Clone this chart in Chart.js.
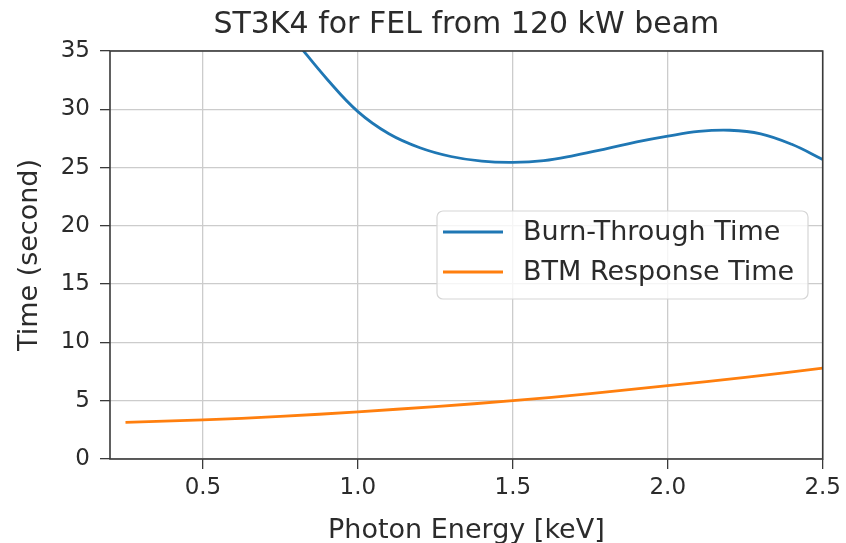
<!DOCTYPE html>
<html>
<head>
<meta charset="utf-8">
<script src="https://cdn.jsdelivr.net/npm/chart.js@4"></script>
<style>
  html, body { margin: 0; padding: 0; background: #fff; }
</style>
</head>
<body>
<canvas id="myChart" width="846" height="543"></canvas>
<script>
// Burn-through time vs photon energy (keV -> seconds)
const burnEnergy = [0.80, 0.90, 1.00, 1.10, 1.20, 1.30, 1.40, 1.50, 1.60, 1.70, 1.80, 1.90, 2.00, 2.10, 2.20, 2.30, 2.40, 2.50];
const burnTime   = [35.8, 32.6, 29.8, 27.9, 26.7, 25.95, 25.55, 25.45, 25.6, 26.05, 26.6, 27.2, 27.7, 28.1, 28.2, 27.9, 27.0, 25.7];

// BTM response time
const btmEnergy = [0.25, 0.50, 0.75, 1.00, 1.25, 1.50, 1.75, 2.00, 2.25, 2.50];
const btmTime   = [3.15, 3.35, 3.65, 4.05, 4.50, 5.00, 5.60, 6.30, 7.00, 7.80];

const xTicks = [0.5, 1.0, 1.5, 2.0, 2.5];
const yTicks = [0, 5, 10, 15, 20, 25, 30, 35];

const chartTitle = 'ST3K4 for FEL from 120 kW beam';

const FONT = 'DejaVu Sans';
const TEXT = '#2b2b2b';

const toPoints = (xs, ys) => xs.map((x, i) => ({ x: x, y: ys[i] }));

// title over the axes, frame, and legend box inside the plot area
const framePlugin = {
  id: 'frame',
  afterDraw(chart) {
    const { ctx, chartArea: a } = chart;
    ctx.save();

    ctx.font = '30px "' + FONT + '"';
    ctx.fillStyle = TEXT;
    ctx.textAlign = 'center';
    ctx.textBaseline = 'alphabetic';
    ctx.fillText(chartTitle, (a.left + a.right) / 2, 33);

    ctx.strokeStyle = '#3a3a3a';
    ctx.lineWidth = 1.6;
    ctx.strokeRect(a.left, a.top, a.right - a.left, a.bottom - a.top);

    // legend
    const bx = 437, by = 211, bw = 371, bh = 88, r = 6;
    ctx.beginPath();
    ctx.roundRect(bx, by, bw, bh, r);
    ctx.fillStyle = 'rgba(255,255,255,0.8)';
    ctx.fill();
    ctx.strokeStyle = '#d6d6d6';
    ctx.lineWidth = 1.2;
    ctx.stroke();

    ctx.font = '27px "' + FONT + '"';
    ctx.textAlign = 'left';
    ctx.textBaseline = 'middle';
    ctx.fillStyle = TEXT;
    chart.data.datasets.forEach((ds, i) => {
      const y = by + 21 + i * 40;
      ctx.beginPath();
      ctx.moveTo(443, y);
      ctx.lineTo(503, y);
      ctx.strokeStyle = ds.borderColor;
      ctx.lineWidth = ds.borderWidth;
      ctx.stroke();
      ctx.fillText(ds.label, 523, y + 1);
    });
    ctx.restore();
  }
};

const config = {
  type: 'line',
  data: {
    datasets: [
      {
        label: 'Burn-Through Time',
        data: toPoints(burnEnergy, burnTime),
        borderColor: '#1f77b4',
        borderWidth: 2.8,
        pointRadius: 0,
        tension: 0.4
      },
      {
        label: 'BTM Response Time',
        data: toPoints(btmEnergy, btmTime),
        borderColor: '#ff7f0e',
        borderWidth: 2.8,
        pointRadius: 0,
        tension: 0.4
      }
    ]
  },
  options: {
    responsive: false,
    animation: false,
    layout: { padding: { left: 0, right: 23, top: 51, bottom: 0 } },
    plugins: {
      legend: { display: false },
      tooltip: { enabled: false },
      title: { display: false }
    },
    scales: {
      x: {
        type: 'linear',
        min: 0.2,
        max: 2.5,
        afterBuildTicks: s => { s.ticks = xTicks.map(v => ({ value: v })); },
        afterFit: s => { s.height = 84; },
        border: { display: false },
        grid: { color: '#cccccc', lineWidth: 1.3, tickColor: '#3a3a3a', tickLength: 10 },
        ticks: {
          color: TEXT,
          font: { family: FONT, size: 23 },
          padding: 5,
          maxRotation: 0,
          autoSkip: false,
          callback: v => v.toFixed(1)
        },
        title: {
          display: true,
          text: 'Photon Energy [keV]',
          color: TEXT,
          font: { family: FONT, size: 27 },
          padding: { top: 0, bottom: -4 }
        }
      },
      y: {
        min: 0,
        max: 35,
        afterBuildTicks: s => { s.ticks = yTicks.map(v => ({ value: v })); },
        afterFit: s => { s.width = 110; },
        border: { display: false },
        grid: { color: '#cccccc', lineWidth: 1.3, tickColor: '#3a3a3a', tickLength: 10 },
        ticks: {
          color: TEXT,
          font: { family: FONT, size: 23 },
          padding: 10,
          callback: v => String(v)
        },
        title: {
          display: true,
          text: 'Time (second)',
          color: TEXT,
          font: { family: FONT, size: 27 },
          padding: { top: 14, bottom: 0 }
        }
      }
    }
  },
  plugins: [framePlugin]
};

const myChart = new Chart(document.getElementById('myChart'), config);
</script>
</body>
</html>
